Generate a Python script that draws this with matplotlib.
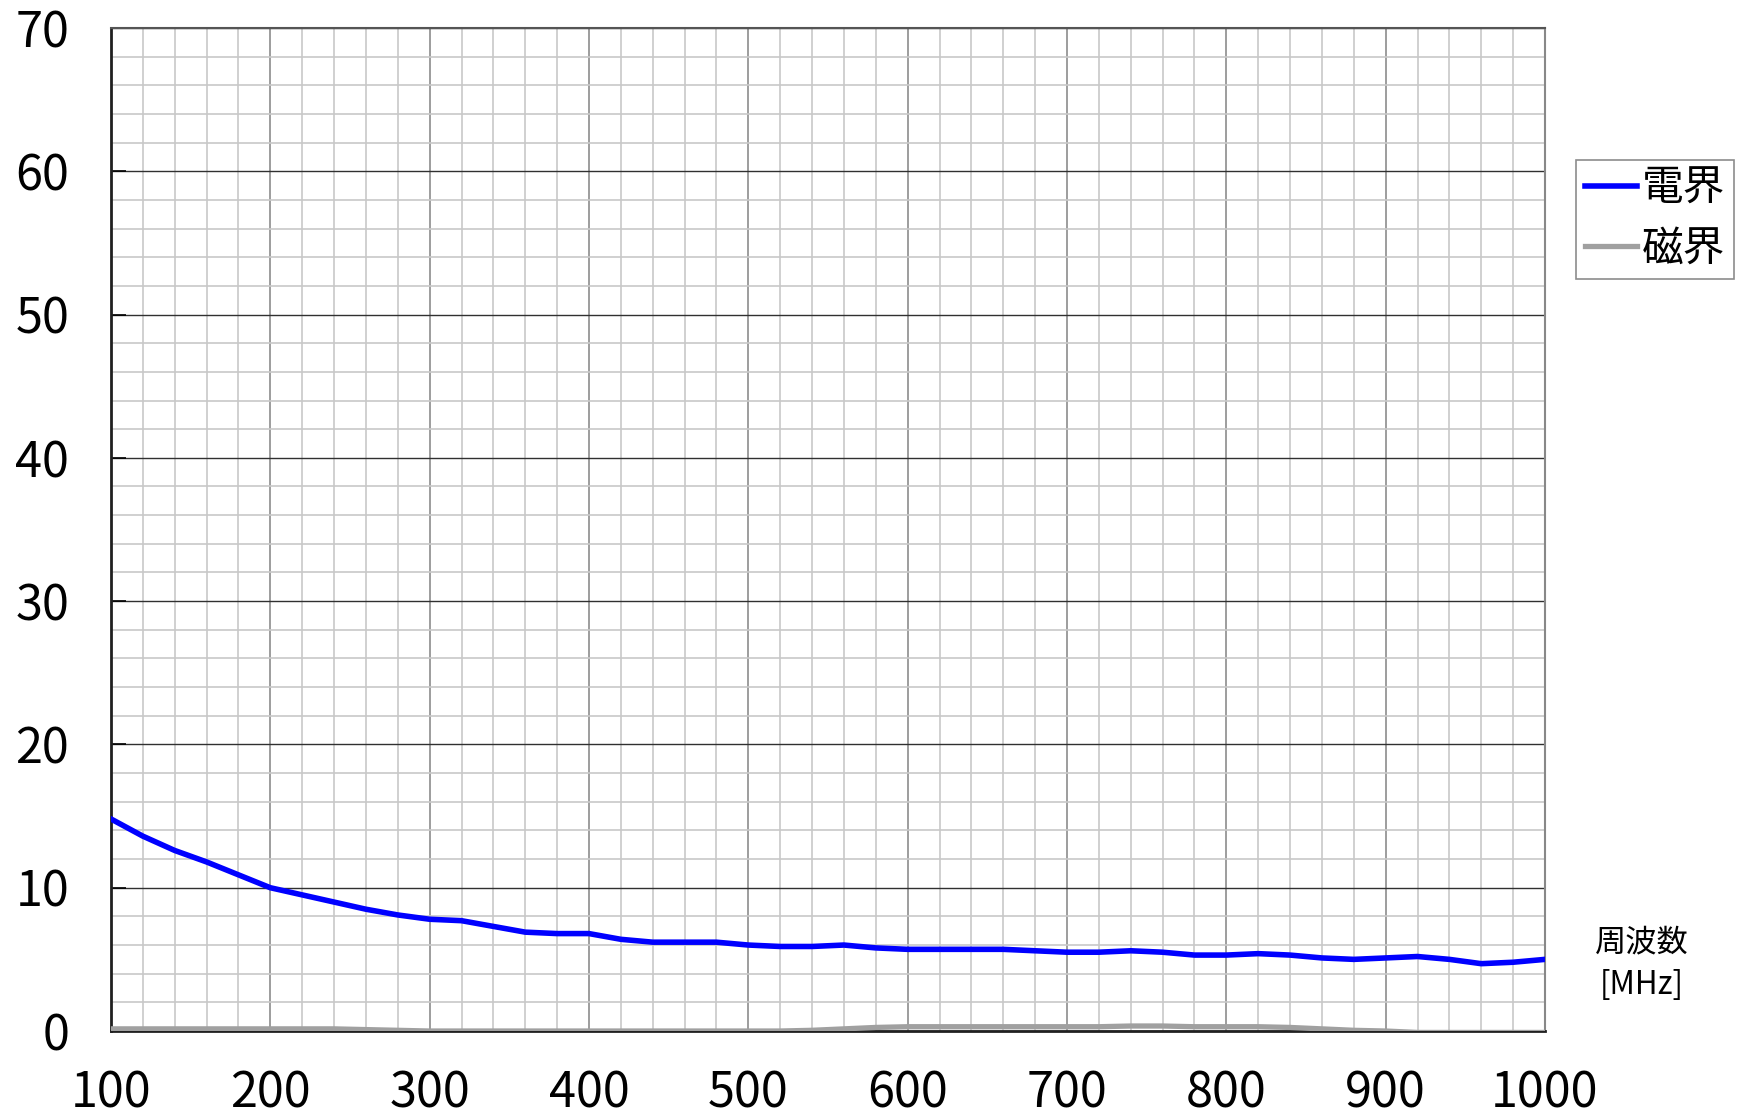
import numpy as np
import matplotlib
matplotlib.use("Agg")
import matplotlib.pyplot as plt
from matplotlib.ticker import MultipleLocator

plt.rcParams['font.family'] = ['Noto Sans CJK JP', 'DejaVu Sans']

# frequency [MHz]
freq = [100, 120, 140, 160, 180, 200, 220, 240, 260, 280, 300, 320, 340, 360, 380,
        400, 420, 440, 460, 480, 500, 520, 540, 560, 580, 600, 620, 640, 660, 680,
        700, 720, 740, 760, 780, 800, 820, 840, 860, 880, 900, 920, 940, 960, 980, 1000]
# electric field (電界)
e_field = [14.8, 13.6, 12.6, 11.8, 10.9, 10.0, 9.5, 9.0, 8.5, 8.1, 7.8, 7.7, 7.3, 6.9, 6.8,
           6.8, 6.4, 6.2, 6.2, 6.2, 6.0, 5.9, 5.9, 6.0, 5.8, 5.7, 5.7, 5.7, 5.7, 5.6,
           5.5, 5.5, 5.6, 5.5, 5.3, 5.3, 5.4, 5.3, 5.1, 5.0, 5.1, 5.2, 5.0, 4.7, 4.8, 5.0]
# magnetic field (磁界)
h_field = [0.15, 0.15, 0.15, 0.15, 0.15, 0.15, 0.15, 0.15, 0.1, 0.05, 0.0, 0.0, 0.0, 0.0, 0.0,
           0.0, 0.0, 0.0, 0.0, 0.0, 0.0, 0.0, 0.05, 0.15, 0.25, 0.3, 0.3, 0.3, 0.3, 0.3,
           0.3, 0.3, 0.35, 0.35, 0.3, 0.3, 0.3, 0.25, 0.15, 0.05, 0.0, -0.1, -0.1, -0.1, -0.1, -0.1]

fig = plt.figure(figsize=(17.42, 11.18), dpi=100)
ax = fig.add_axes([0.0637, 0.0778, 0.8232, 0.8972])

ax.plot(freq, h_field, color='#a0a0a0', lw=3.8, label='磁界', zorder=3)
ax.plot(freq, e_field, color='#0000ff', lw=4.0, label='電界', zorder=4,
        solid_joinstyle='round')

ax.set_xlim(100, 1000)
ax.set_ylim(0, 70)
ax.xaxis.set_major_locator(MultipleLocator(100))
ax.xaxis.set_minor_locator(MultipleLocator(20))
ax.yaxis.set_major_locator(MultipleLocator(10))
ax.yaxis.set_minor_locator(MultipleLocator(2))

ax.grid(which='minor', color='#c8c8c8', lw=1.2)
ax.grid(which='major', axis='x', color='#8c8c8c', lw=1.2)
ax.grid(which='major', axis='y', color='#303030', lw=1.0)
ax.set_axisbelow(True)

ax.tick_params(which='minor', length=0)
ax.tick_params(axis='x', which='major', length=0, labelsize=35, pad=27)
ax.tick_params(axis='y', which='major', direction='in', length=11, width=1.2,
               labelsize=35, pad=30)

for side in ['left', 'bottom']:
    ax.spines[side].set_color('#202020')
    ax.spines[side].set_linewidth(2)
ax.spines['top'].set_color('#555555')
ax.spines['top'].set_linewidth(1.5)
ax.spines['right'].set_color('#888888')
ax.spines['right'].set_linewidth(1.5)

fig.text(0.9425, 0.138, '周波数\n[MHz]', fontsize=22.5, ha='center', va='center',
         linespacing=1.4)

handles, labels = ax.get_legend_handles_labels()
leg = fig.legend(handles[::-1], labels[::-1], loc='upper left',
                 bbox_to_anchor=(0.9045, 0.857), borderaxespad=0, fontsize=30,
                 frameon=True, fancybox=False, edgecolor='#707070',
                 handlelength=1.25, handletextpad=0.12, borderpad=0.22,
                 labelspacing=0.45)
leg.get_frame().set_linewidth(1.2)

fig.savefig('out.png', dpi=100)
